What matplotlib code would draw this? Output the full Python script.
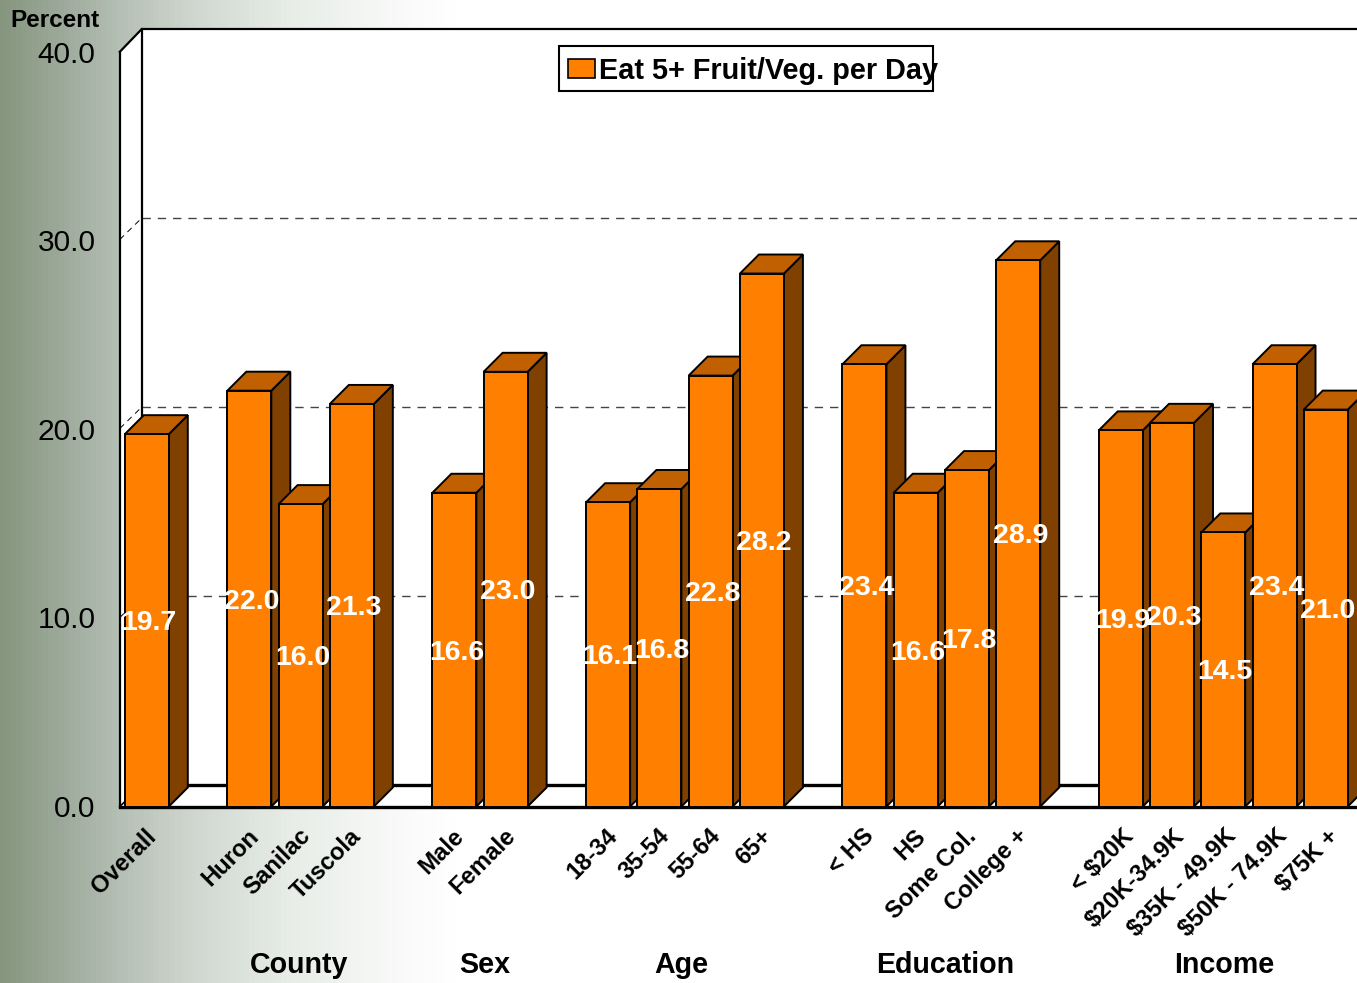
import numpy as np
import matplotlib
matplotlib.use("Agg")
import matplotlib.pyplot as plt
from matplotlib.patches import Polygon, Rectangle
from matplotlib.colors import LinearSegmentedColormap

plt.rcParams['font.family'] = ['Liberation Sans', 'DejaVu Sans']

# ---- data ----
categories = ["Overall", "Huron", "Sanilac", "Tuscola", "Male", "Female",
              "18-34", "35-54", "55-64", "65+", "< HS", "HS", "Some Col.", "College +",
              "< $20K", "$20K-34.9K", "$35K - 49.9K", "$50K - 74.9K", "$75K +"]
slots = [0, 2, 3, 4, 6, 7, 9, 10, 11, 12, 14, 15, 16, 17, 19, 20, 21, 22, 23]
values = [19.7, 22.0, 16.0, 21.3, 16.6, 23.0, 16.1, 16.8, 22.8, 28.2,
          23.4, 16.6, 17.8, 28.9, 19.9, 20.3, 14.5, 23.4, 21.0]
yticks = [0, 10, 20, 30, 40]
groups = ["County", "Sex", "Age", "Education", "Income"]
group_pos = [2.965, 6.594, 10.437, 15.568, 21.01]
legend_label = "Eat 5+ Fruit/Veg. per Day"

W, H = 1357, 983
fig = plt.figure(figsize=(W / 100, H / 100), dpi=100)

# background gradient
bg = fig.add_axes([0, 0, 1, 1], zorder=0)
bg.axis("off")
cmap = LinearSegmentedColormap.from_list("bg", [
    (0.00, "#87967f"), (0.044, "#9daa9b"), (0.088, "#b6c0b5"),
    (0.147, "#d2d9d2"), (0.214, "#e8ede8"), (0.258, "#f1f4f1"),
    (0.295, "#f9faf9"), (0.335, "#ffffff"), (1.0, "#ffffff")])
bg.imshow(np.linspace(0, 1, 1357)[None, :], cmap=cmap, aspect="auto", vmin=0, vmax=1)

# main axes: one slot = 51.26 px, one percent = 18.9 px
PX = 51.26
PY = 18.9
X0, Y0 = 146.8, 806.5     # pixel of slot 0 centre, value 0
ax = fig.add_axes([0, 0, 1, 1], zorder=1)
ax.patch.set_alpha(0)
ax.set_xlim(-X0 / PX, (W - X0) / PX)
ax.set_ylim(-(H - Y0) / PY, Y0 / PY)
ax.axis("off")

dx = lambda p: p / PX
dy = lambda p: p / PY
LEFT = -27 / PX           # front-left corner of the chart box
BX, BY = dx(22), dy(21.5)  # wall depth
TOPV = 39.93
RIGHT = ax.get_xlim()[1]
k = "black"

# walls
ax.add_patch(Polygon([(LEFT, 0), (LEFT + BX, BY), (RIGHT, BY), (RIGHT, 40 + BY), (LEFT + BX, 40 + BY),
                      (LEFT, TOPV)], closed=True, fc="white", ec="none", zorder=1))
ax.add_patch(Polygon([(LEFT, 0), (LEFT + BX, BY), (RIGHT, BY), (RIGHT, 0)], closed=True,
                     fc="white", ec="none", zorder=1))
# gridlines
for t in yticks[1:-1]:
    ax.plot([LEFT + BX, RIGHT], [t + BY, t + BY], color="#444444", lw=1.0,
            dashes=(6, 5), zorder=1.5)
    ax.plot([LEFT, LEFT + BX], [t, t + BY], color=k, lw=0.7, dashes=(6, 5), zorder=1.5)
# frame
ax.plot([LEFT + BX, LEFT + BX], [BY, 40 + BY], color=k, lw=1.6, zorder=2)
ax.plot([LEFT, LEFT], [0, TOPV], color=k, lw=1.6, zorder=2)
ax.plot([LEFT, LEFT + BX, RIGHT], [TOPV, 40 + BY, 40 + BY], color=k, lw=1.6, zorder=2)
ax.plot([LEFT, LEFT + BX], [0, BY], color=k, lw=1.2, zorder=2)
ax.plot([LEFT + BX, RIGHT], [BY, BY], color=k, lw=2.4, zorder=2)
ax.plot([LEFT, RIGHT], [0, 0], color=k, lw=2.4, zorder=2.1)

# bars
BW = 44 / PX
DX, DY = dx(19), dy(19)
FRONT, TOP, SIDE = "#ff8000", "#c06000", "#804000"
for i, (s, v) in enumerate(zip(slots, values)):
    z = 3 + i * 0.01
    l, r = s - BW / 2, s + BW / 2
    ax.add_patch(Polygon([(r, 0), (r + DX, DY), (r + DX, v + DY), (r, v)], closed=True,
                         fc=SIDE, ec=k, lw=1.4, zorder=z, joinstyle="miter"))
    ax.add_patch(Polygon([(l, v), (l + DX, v + DY), (r + DX, v + DY), (r, v)], closed=True,
                         fc=TOP, ec=k, lw=1.4, zorder=z, joinstyle="miter"))
    ax.bar(s, v, width=BW, color=FRONT, edgecolor=k, linewidth=1.4, zorder=z)

# value labels
for s, v in zip(slots, values):
    ax.text(s + dx(2), v / 2 - dy(3), f"{v:.1f}", color="white", fontsize=20.5, fontweight="bold",
            ha="center", va="center", zorder=5)

# y tick labels
for t in yticks:
    ax.text(dx(95.5 - X0), t * 0.9973 - 0.21 + dy(1.5), f"{t:.1f}", fontsize=21.5, ha="right", va="center", zorder=5)
ax.text(dx(100 - X0), dy(Y0 - 20.5), "Percent", fontsize=17.5, fontweight="bold",
        ha="right", va="center", zorder=5)

# category labels
for s, c in zip(slots, categories):
    nudge = 3 if s >= 19 else 0
    ax.text(s + dx(-2 + nudge), dy(-18), c, fontsize=17.2, fontweight="bold", rotation=45,
            rotation_mode="anchor", ha="right", va="top", zorder=5)

# group labels
for g, p in zip(groups, group_pos):
    ax.text(p, dy(806.5 - 965), g, fontsize=20.6, fontweight="bold",
            ha="center", va="center", zorder=5)

# legend
ax.add_patch(Rectangle((dx(559 - X0), dy(Y0 - 91)), dx(374), dy(45), fc="white", ec=k, lw=1.5, zorder=6))
ax.add_patch(Rectangle((dx(568 - X0), dy(Y0 - 78)), dx(27), dy(19), fc=FRONT, ec=k, lw=1.2, zorder=7))
ax.text(dx(599 - X0), dy(Y0 - 71), legend_label, fontsize=20.8, fontweight="bold",
        ha="left", va="center", zorder=7)

fig.savefig("out.png", dpi=100)
